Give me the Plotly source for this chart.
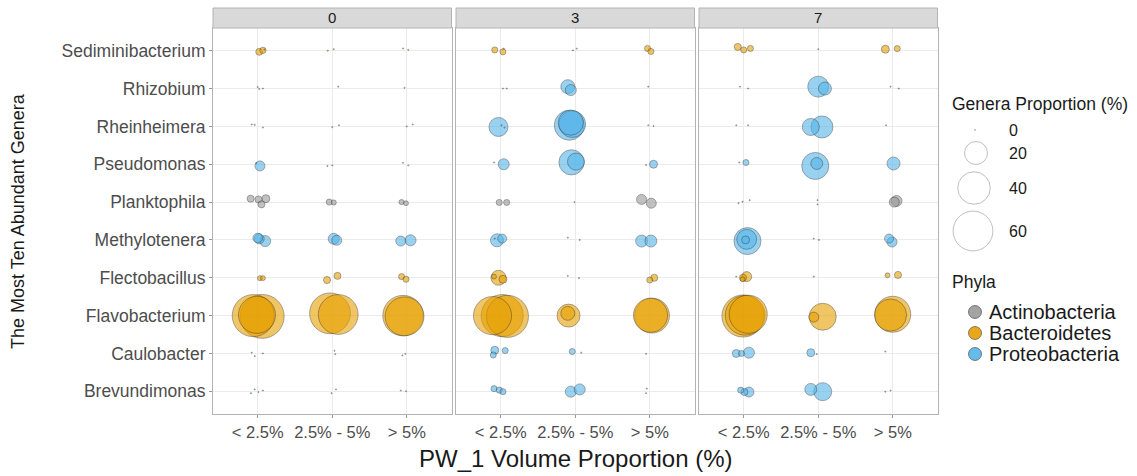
import plotly.graph_objects as go

W, H = 1137, 476
FONT = "Liberation Sans, Arial, Helvetica, sans-serif"

# ---- data -------------------------------------------------------------
genera = ["Brevundimonas", "Caulobacter", "Flavobacterium", "Flectobacillus",
          "Methylotenera", "Planktophila", "Pseudomonas", "Rheinheimera",
          "Rhizobium", "Sediminibacterium"]
volume_groups = ["< 2.5%", "2.5% - 5%", "> 5%"]
days = ["0", "3", "7"]

phylum_of = {
    "Sediminibacterium": "Bacteroidetes", "Flectobacillus": "Bacteroidetes",
    "Flavobacterium": "Bacteroidetes", "Planktophila": "Actinobacteria",
    "Rhizobium": "Proteobacteria", "Rheinheimera": "Proteobacteria",
    "Pseudomonas": "Proteobacteria", "Methylotenera": "Proteobacteria",
    "Caulobacter": "Proteobacteria", "Brevundimonas": "Proteobacteria",
}
phyla = ["Actinobacteria", "Bacteroidetes", "Proteobacteria"]
phylum_colors = {"Actinobacteria": "153,153,153",
                 "Bacteroidetes": "230,159,0",
                 "Proteobacteria": "86,180,233"}
size_breaks = [0, 20, 40, 60]

# (genus, volume group, proportion %, jitter x, jitter y) per sample
day0 = [
    ("Sediminibacterium", "< 2.5%", 1.8, 0.02, -0.03),
    ("Sediminibacterium", "< 2.5%", 1.5, 0.07, 0.01),
    ("Sediminibacterium", "< 2.5%", 0.05, 0.09, 0.03),
    ("Sediminibacterium", "2.5% - 5%", 0.05, -0.06, 0.0),
    ("Sediminibacterium", "2.5% - 5%", 0.05, 0.02, 0.04),
    ("Sediminibacterium", "> 5%", 0.05, -0.05, 0.06),
    ("Sediminibacterium", "> 5%", 0.05, 0.02, 0.02),
    ("Rhizobium", "< 2.5%", 0.05, 0.0, 0.04),
    ("Rhizobium", "< 2.5%", 0.05, 0.02, -0.01),
    ("Rhizobium", "< 2.5%", 0.05, 0.07, 0.0),
    ("Rhizobium", "2.5% - 5%", 0.05, 0.08, 0.05),
    ("Rhizobium", "> 5%", 0.05, -0.03, 0.02),
    ("Rheinheimera", "< 2.5%", 0.05, -0.08, 0.05),
    ("Rheinheimera", "< 2.5%", 0.05, -0.04, 0.04),
    ("Rheinheimera", "< 2.5%", 0.05, 0.07, -0.03),
    ("Rheinheimera", "2.5% - 5%", 0.05, 0.0, -0.02),
    ("Rheinheimera", "2.5% - 5%", 0.05, 0.09, 0.03),
    ("Rheinheimera", "> 5%", 0.05, 0.0, 0.0),
    ("Rheinheimera", "> 5%", 0.05, 0.08, 0.05),
    ("Pseudomonas", "< 2.5%", 3.8, 0.03, -0.045),
    ("Pseudomonas", "< 2.5%", 0.05, -0.02, 0.03),
    ("Pseudomonas", "2.5% - 5%", 0.05, -0.065, -0.045),
    ("Pseudomonas", "2.5% - 5%", 0.05, 0.0, -0.03),
    ("Pseudomonas", "> 5%", 0.05, -0.05, 0.04),
    ("Pseudomonas", "> 5%", 0.05, 0.02, -0.03),
    ("Planktophila", "< 2.5%", 1.9, -0.095, 0.09),
    ("Planktophila", "< 2.5%", 1.9, 0.01, 0.07),
    ("Planktophila", "< 2.5%", 1.9, 0.05, -0.06),
    ("Planktophila", "< 2.5%", 2.4, 0.11, 0.09),
    ("Planktophila", "2.5% - 5%", 1.4, -0.04, 0.0),
    ("Planktophila", "2.5% - 5%", 1.0, 0.02, -0.01),
    ("Planktophila", "> 5%", 1.0, -0.07, 0.0),
    ("Planktophila", "> 5%", 0.9, -0.01, -0.03),
    ("Methylotenera", "< 2.5%", 3.5, 0.0, 0.05),
    ("Methylotenera", "< 2.5%", 3.8, 0.02, 0.03),
    ("Methylotenera", "< 2.5%", 4.6, 0.1, -0.03),
    ("Methylotenera", "2.5% - 5%", 4.6, 0.02, 0.03),
    ("Methylotenera", "2.5% - 5%", 3.8, 0.06, -0.01),
    ("Methylotenera", "> 5%", 3.8, -0.08, -0.03),
    ("Methylotenera", "> 5%", 4.6, 0.05, -0.01),
    ("Flectobacillus", "< 2.5%", 0.95, 0.03, -0.01),
    ("Flectobacillus", "< 2.5%", 0.9, 0.07, -0.01),
    ("Flectobacillus", "2.5% - 5%", 1.9, -0.07, -0.06),
    ("Flectobacillus", "2.5% - 5%", 1.9, 0.07, 0.05),
    ("Flectobacillus", "> 5%", 1.4, -0.07, 0.03),
    ("Flectobacillus", "> 5%", 1.4, -0.01, -0.04),
    ("Flavobacterium", "< 2.5%", 67, -0.06, 0.0),
    ("Flavobacterium", "< 2.5%", 73, 0.06, -0.02),
    ("Flavobacterium", "< 2.5%", 52, -0.01, 0.02),
    ("Flavobacterium", "2.5% - 5%", 63, -0.03, 0.06),
    ("Flavobacterium", "2.5% - 5%", 60, 0.08, 0.03),
    ("Flavobacterium", "> 5%", 62, -0.05, 0.0),
    ("Flavobacterium", "> 5%", 57, -0.03, -0.02),
    ("Caulobacter", "< 2.5%", 0.05, -0.08, 0.02),
    ("Caulobacter", "< 2.5%", 0.05, -0.04, -0.07),
    ("Caulobacter", "< 2.5%", 0.05, 0.07, 0.0),
    ("Caulobacter", "2.5% - 5%", 0.05, 0.03, 0.07),
    ("Caulobacter", "2.5% - 5%", 0.05, 0.04, -0.02),
    ("Caulobacter", "> 5%", 0.05, -0.06, -0.05),
    ("Caulobacter", "> 5%", 0.05, -0.02, -0.01),
    ("Brevundimonas", "< 2.5%", 0.05, -0.09, -0.05),
    ("Brevundimonas", "< 2.5%", 0.05, -0.04, 0.05),
    ("Brevundimonas", "< 2.5%", 0.05, 0.01, -0.02),
    ("Brevundimonas", "< 2.5%", 0.05, 0.07, 0.02),
    ("Brevundimonas", "2.5% - 5%", 0.05, -0.01, -0.05),
    ("Brevundimonas", "2.5% - 5%", 0.05, 0.05, 0.05),
    ("Brevundimonas", "> 5%", 0.05, -0.08, 0.02),
    ("Brevundimonas", "> 5%", 0.05, -0.01, 0.0),
]

day3 = [
    ("Sediminibacterium", "< 2.5%", 1.4, -0.08, 0.02),
    ("Sediminibacterium", "< 2.5%", 1.4, 0.03, -0.03),
    ("Sediminibacterium", "< 2.5%", 0.05, 0.04, 0.055),
    ("Sediminibacterium", "2.5% - 5%", 0.05, -0.03, 0.01),
    ("Sediminibacterium", "2.5% - 5%", 0.05, 0.02, 0.055),
    ("Sediminibacterium", "> 5%", 1.4, -0.03, 0.06),
    ("Sediminibacterium", "> 5%", 1.4, 0.015, -0.02),
    ("Rhizobium", "< 2.5%", 0.05, 0.03, 0.0),
    ("Rhizobium", "< 2.5%", 0.05, 0.08, 0.0),
    ("Rhizobium", "2.5% - 5%", 7.4, -0.1, 0.05),
    ("Rhizobium", "2.5% - 5%", 4.6, -0.06, -0.04),
    ("Rhizobium", "> 5%", 0.05, -0.02, 0.05),
    ("Rheinheimera", "< 2.5%", 13.7, -0.03, -0.015),
    ("Rheinheimera", "< 2.5%", 0.05, 0.01, 0.03),
    ("Rheinheimera", "< 2.5%", 0.05, 0.05, -0.03),
    ("Rheinheimera", "2.5% - 5%", 34, -0.08, 0.03),
    ("Rheinheimera", "2.5% - 5%", 27, -0.04, 0.06),
    ("Rheinheimera", "2.5% - 5%", 24, -0.06, 0.1),
    ("Rheinheimera", "> 5%", 0.05, -0.02, 0.03),
    ("Rheinheimera", "> 5%", 0.05, 0.05, 0.01),
    ("Pseudomonas", "< 2.5%", 0.05, -0.09, 0.05),
    ("Pseudomonas", "< 2.5%", 4.6, 0.04, 0.0),
    ("Pseudomonas", "2.5% - 5%", 24, -0.05, 0.05),
    ("Pseudomonas", "2.5% - 5%", 11, 0.01, 0.07),
    ("Pseudomonas", "> 5%", 0.05, -0.05, -0.02),
    ("Pseudomonas", "> 5%", 2.4, 0.05, 0.0),
    ("Planktophila", "< 2.5%", 1.4, -0.02, -0.01),
    ("Planktophila", "< 2.5%", 1.4, 0.08, -0.01),
    ("Planktophila", "2.5% - 5%", 0.05, -0.01, 0.0),
    ("Planktophila", "> 5%", 3.8, -0.11, 0.07),
    ("Planktophila", "> 5%", 3.8, 0.02, -0.03),
    ("Methylotenera", "< 2.5%", 6.4, -0.05, -0.01),
    ("Methylotenera", "< 2.5%", 3.1, 0.02, 0.035),
    ("Methylotenera", "< 2.5%", 0.05, -0.08, 0.035),
    ("Methylotenera", "2.5% - 5%", 0.05, -0.1, 0.06),
    ("Methylotenera", "2.5% - 5%", 0.05, 0.06, 0.0),
    ("Methylotenera", "> 5%", 5.4, -0.11, -0.03),
    ("Methylotenera", "> 5%", 5.4, 0.015, -0.03),
    ("Flectobacillus", "< 2.5%", 8.5, -0.03, 0.0),
    ("Flectobacillus", "< 2.5%", 0.9, -0.09, 0.03),
    ("Flectobacillus", "< 2.5%", 2.4, 0.03, -0.04),
    ("Flectobacillus", "2.5% - 5%", 0.05, -0.1, 0.05),
    ("Flectobacillus", "2.5% - 5%", 0.05, 0.05, -0.01),
    ("Flectobacillus", "> 5%", 1.4, 0.0, -0.06),
    ("Flectobacillus", "> 5%", 1.9, 0.06, 0.0),
    ("Flavobacterium", "< 2.5%", 55, -0.11, 0.0),
    ("Flavobacterium", "< 2.5%", 67, 0.02, 0.0),
    ("Flavobacterium", "< 2.5%", 67, 0.09, -0.02),
    ("Flavobacterium", "2.5% - 5%", 20, -0.09, 0.0),
    ("Flavobacterium", "2.5% - 5%", 7.4, -0.1, 0.06),
    ("Flavobacterium", "> 5%", 46, 0.03, 0.0),
    ("Flavobacterium", "> 5%", 44, 0.01, 0.01),
    ("Caulobacter", "< 2.5%", 2.4, -0.08, 0.085),
    ("Caulobacter", "< 2.5%", 1.4, -0.1, -0.04),
    ("Caulobacter", "< 2.5%", 1.4, 0.06, 0.075),
    ("Caulobacter", "2.5% - 5%", 1.4, -0.04, 0.05),
    ("Caulobacter", "2.5% - 5%", 0.05, 0.08, 0.02),
    ("Caulobacter", "> 5%", 0.05, -0.05, -0.01),
    ("Brevundimonas", "< 2.5%", 1.4, -0.09, 0.07),
    ("Brevundimonas", "< 2.5%", 1.4, -0.02, 0.03),
    ("Brevundimonas", "< 2.5%", 1.4, 0.03, -0.01),
    ("Brevundimonas", "2.5% - 5%", 4.6, -0.06, -0.01),
    ("Brevundimonas", "2.5% - 5%", 4.6, 0.06, 0.05),
    ("Brevundimonas", "> 5%", 0.05, -0.04, 0.07),
    ("Brevundimonas", "> 5%", 0.05, -0.05, -0.05),
]

day7 = [
    ("Sediminibacterium", "< 2.5%", 1.9, -0.08, 0.1),
    ("Sediminibacterium", "< 2.5%", 1.4, 0.0, 0.02),
    ("Sediminibacterium", "< 2.5%", 1.4, 0.09, 0.06),
    ("Sediminibacterium", "2.5% - 5%", 0.05, 0.0, 0.04),
    ("Sediminibacterium", "> 5%", 2.4, -0.1, 0.04),
    ("Sediminibacterium", "> 5%", 1.4, 0.06, 0.055),
    ("Rhizobium", "< 2.5%", 0.05, -0.05, 0.05),
    ("Rhizobium", "< 2.5%", 0.05, 0.06, 0.0),
    ("Rhizobium", "2.5% - 5%", 16.7, 0.0, 0.05),
    ("Rhizobium", "2.5% - 5%", 6.4, 0.09, 0.0),
    ("Rhizobium", "> 5%", 0.05, -0.03, 0.05),
    ("Rhizobium", "> 5%", 0.05, 0.08, 0.0),
    ("Rheinheimera", "< 2.5%", 0.05, -0.1, 0.03),
    ("Rheinheimera", "< 2.5%", 0.05, 0.06, 0.03),
    ("Rheinheimera", "2.5% - 5%", 11, -0.1, -0.015),
    ("Rheinheimera", "2.5% - 5%", 18.3, 0.05, -0.015),
    ("Rheinheimera", "> 5%", 0.05, -0.09, 0.03),
    ("Pseudomonas", "< 2.5%", 1.4, 0.03, 0.045),
    ("Pseudomonas", "< 2.5%", 0.05, -0.06, 0.045),
    ("Pseudomonas", "2.5% - 5%", 27.6, -0.04, -0.045),
    ("Pseudomonas", "2.5% - 5%", 5.4, -0.02, 0.02),
    ("Pseudomonas", "> 5%", 6.4, 0.01, 0.02),
    ("Planktophila", "< 2.5%", 0.05, -0.07, -0.03),
    ("Planktophila", "< 2.5%", 0.05, -0.015, 0.01),
    ("Planktophila", "< 2.5%", 0.05, 0.08, 0.05),
    ("Planktophila", "2.5% - 5%", 0.05, -0.01, 0.05),
    ("Planktophila", "2.5% - 5%", 0.05, -0.01, -0.06),
    ("Planktophila", "> 5%", 4.6, 0.05, 0.03),
    ("Planktophila", "> 5%", 3.8, 0.02, 0.0),
    ("Methylotenera", "< 2.5%", 27.6, 0.05, -0.03),
    ("Methylotenera", "< 2.5%", 15, 0.04, 0.015),
    ("Methylotenera", "< 2.5%", 2.4, 0.025, 0.0),
    ("Methylotenera", "2.5% - 5%", 0.05, -0.06, 0.035),
    ("Methylotenera", "2.5% - 5%", 0.05, 0.01, 0.0),
    ("Methylotenera", "> 5%", 3.1, -0.05, 0.035),
    ("Methylotenera", "> 5%", 3.8, -0.01, -0.055),
    ("Flectobacillus", "< 2.5%", 3.8, 0.04, 0.03),
    ("Flectobacillus", "< 2.5%", 1.9, -0.01, 0.0),
    ("Flectobacillus", "< 2.5%", 0.9, -0.015, -0.04),
    ("Flectobacillus", "< 2.5%", 0.05, -0.1, 0.03),
    ("Flectobacillus", "2.5% - 5%", 0.05, -0.06, 0.03),
    ("Flectobacillus", "> 5%", 0.9, -0.07, 0.065),
    ("Flectobacillus", "> 5%", 1.9, 0.07, 0.075),
    ("Flavobacterium", "< 2.5%", 67, -0.01, -0.01),
    ("Flavobacterium", "< 2.5%", 55, 0.06, 0.035),
    ("Flavobacterium", "< 2.5%", 60, 0.02, 0.01),
    ("Flavobacterium", "2.5% - 5%", 27.6, 0.06, -0.03),
    ("Flavobacterium", "2.5% - 5%", 3.8, -0.06, -0.04),
    ("Flavobacterium", "> 5%", 49, 0.0, 0.035),
    ("Flavobacterium", "> 5%", 39, -0.03, 0.015),
    ("Caulobacter", "< 2.5%", 2.4, -0.1, 0.0),
    ("Caulobacter", "< 2.5%", 1.4, -0.03, 0.0),
    ("Caulobacter", "< 2.5%", 4.6, 0.07, 0.02),
    ("Caulobacter", "2.5% - 5%", 2.4, -0.1, 0.02),
    ("Caulobacter", "2.5% - 5%", 0.05, -0.02, -0.02),
    ("Caulobacter", "> 5%", 0.05, -0.1, 0.05),
    ("Brevundimonas", "< 2.5%", 1.4, -0.04, 0.03),
    ("Brevundimonas", "< 2.5%", 1.9, 0.01, -0.02),
    ("Brevundimonas", "< 2.5%", 3.8, 0.07, -0.02),
    ("Brevundimonas", "2.5% - 5%", 5.4, -0.1, 0.05),
    ("Brevundimonas", "2.5% - 5%", 12.3, 0.06, -0.01),
    ("Brevundimonas", "> 5%", 0.05, -0.1, -0.01),
    ("Brevundimonas", "> 5%", 0.05, -0.03, 0.02),
]

facets = {"0": day0, "3": day3, "7": day7}

# ---- geometry (pixels -> paper) ----------------------------------------
PANEL_LEFT, PANEL_RIGHT, PANEL_GAP = 213.0, 937.5, 4.5
PANEL_TOP, PANEL_BOTTOM = 28.0, 414.0
STRIP_TOP = 8.0
panel_w = (PANEL_RIGHT - PANEL_LEFT - 2 * PANEL_GAP) / 3

def px(x):
    return x / W

def py(y):
    return 1 - y / H

# bubble area scale: 20 % -> ~23 px diameter
SIZEREF = 2 * 20 / 23.0 ** 2
SIZEMIN = 0.6
FILL_ALPHA = 0.86
EDGE = "rgba(30,30,30,0.65)"
TEXT = "#1A1A1A"
TICK_TEXT = "#4D4D4D"

fig = go.Figure()
layout_axes = {}
shapes = []
annotations = []

for i, day in enumerate(days):
    rows = sorted(facets[day], key=lambda r: -r[2])
    xs = [volume_groups.index(r[1]) + r[3] for r in rows]
    ys = [genera.index(r[0]) + r[4] for r in rows]
    vals = [r[2] for r in rows]
    cols = [f"rgba({phylum_colors[phylum_of[r[0]]]},{FILL_ALPHA})" for r in rows]
    sfx = "" if i == 0 else str(i + 1)
    fig.add_trace(go.Scatter(
        x=xs, y=ys, mode="markers", xaxis="x" + sfx, yaxis="y" + sfx,
        showlegend=False, hoverinfo="skip",
        marker=dict(size=vals, sizemode="area", sizeref=SIZEREF, sizemin=SIZEMIN,
                    color=cols, line=dict(color=EDGE, width=0.8)),
    ))
    x0 = PANEL_LEFT + i * (panel_w + PANEL_GAP)
    x1 = x0 + panel_w
    layout_axes["xaxis" + sfx] = dict(
        domain=[px(x0), px(x1)], range=[-0.6, 2.6], anchor="y" + sfx,
        tickvals=[0, 1, 2], ticktext=volume_groups,
        showgrid=True, gridcolor="#EBEBEB", gridwidth=1, zeroline=False,
        showline=True, linecolor="#B3B3B3", linewidth=1, mirror=True,
        ticks="outside", ticklen=3, tickcolor="#9A9A9A", tickwidth=1,
        tickfont=dict(family=FONT, size=16.5, color=TICK_TEXT), fixedrange=True,
    )
    layout_axes["yaxis" + sfx] = dict(
        domain=[py(PANEL_BOTTOM), py(PANEL_TOP)], range=[-0.6, 9.6], anchor="x" + sfx,
        tickvals=list(range(len(genera))), ticktext=genera,
        showticklabels=(i == 0), ticks="outside" if i == 0 else "",
        ticklen=3, tickcolor="#9A9A9A", tickwidth=1,
        showgrid=True, gridcolor="#EBEBEB", gridwidth=1, zeroline=False,
        showline=True, linecolor="#B3B3B3", linewidth=1, mirror=True,
        tickfont=dict(family=FONT, size=17.5, color=TICK_TEXT), fixedrange=True,
    )
    # facet strip
    shapes.append(dict(type="rect", xref="paper", yref="paper",
                       x0=px(x0), x1=px(x1), y0=py(PANEL_TOP), y1=py(STRIP_TOP),
                       fillcolor="#D9D9D9", line=dict(color="#B3B3B3", width=1),
                       layer="above"))
    annotations.append(dict(text=day, xref="paper", yref="paper",
                            x=px((x0 + x1) / 2), y=py((STRIP_TOP + PANEL_TOP) / 2),
                            showarrow=False, xanchor="center", yanchor="middle",
                            font=dict(family=FONT, size=15, color=TEXT)))

# overlay axis in pixel units for the legends
layout_axes["xaxis4"] = dict(domain=[0, 1], range=[0, W], visible=False,
                             anchor="y4", fixedrange=True)
layout_axes["yaxis4"] = dict(domain=[0, 1], range=[H, 0], visible=False,
                             anchor="x4", fixedrange=True)

# size legend
LEG_X = 950
size_x = [975, 976, 974, 973]
size_y = [130, 153, 188, 231]
fig.add_trace(go.Scatter(
    x=size_x[1:], y=size_y[1:], mode="markers", xaxis="x4", yaxis="y4",
    showlegend=False, hoverinfo="skip",
    marker=dict(size=size_breaks[1:], sizemode="area", sizeref=SIZEREF,
                color="rgba(255,255,255,0)", line=dict(color="#A6A6A6", width=1)),
))
fig.add_trace(go.Scatter(
    x=size_x[:1], y=size_y[:1], mode="markers", xaxis="x4", yaxis="y4",
    showlegend=False, hoverinfo="skip",
    marker=dict(size=1.6, color="#8C8C8C", line=dict(width=0)),
))
annotations.append(dict(text="Genera Proportion (%)", xref="x4", yref="y4",
                        x=LEG_X, y=104, xanchor="left", yanchor="middle", showarrow=False,
                        font=dict(family=FONT, size=17.5, color=TEXT)))
for b, yy in zip(size_breaks, size_y):
    annotations.append(dict(text=str(b), xref="x4", yref="y4", x=1007, y=yy,
                            xanchor="left", yanchor="middle", showarrow=False,
                            font=dict(family=FONT, size=16, color=TEXT)))

# phyla legend
phy_y = [312, 333, 354]
fig.add_trace(go.Scatter(
    x=[975] * 3, y=phy_y, mode="markers", xaxis="x4", yaxis="y4",
    showlegend=False, hoverinfo="skip",
    marker=dict(size=13, color=[f"rgba({phylum_colors[p]},0.9)" for p in phyla],
                line=dict(color="rgba(60,60,60,0.6)", width=1)),
))
annotations.append(dict(text="Phyla", xref="x4", yref="y4", x=LEG_X, y=282,
                        xanchor="left", yanchor="middle", showarrow=False,
                        font=dict(family=FONT, size=17.5, color=TEXT)))
for p, yy in zip(phyla, phy_y):
    annotations.append(dict(text=p, xref="x4", yref="y4", x=987, y=yy,
                            xanchor="left", yanchor="middle", showarrow=False,
                            font=dict(family=FONT, size=20, color=TEXT)))

# axis titles
annotations.append(dict(text="PW_1 Volume Proportion (%)", xref="x4", yref="y4",
                        x=(PANEL_LEFT + PANEL_RIGHT) / 2, y=458, showarrow=False,
                        xanchor="center", yanchor="middle",
                        font=dict(family=FONT, size=24, color=TEXT)))
annotations.append(dict(text="The Most Ten Abundant Genera", xref="x4", yref="y4",
                        x=18, y=(PANEL_TOP + PANEL_BOTTOM) / 2, textangle=-90,
                        showarrow=False, xanchor="center", yanchor="middle",
                        font=dict(family=FONT, size=18, color=TEXT)))

fig.update_layout(
    width=W, height=H, margin=dict(l=0, r=0, t=0, b=0, pad=0),
    paper_bgcolor="white", plot_bgcolor="rgba(0,0,0,0)",
    shapes=shapes, annotations=annotations, showlegend=False,
    **layout_axes,
)

fig.write_html("out.html", config={"displayModeBar": False})
